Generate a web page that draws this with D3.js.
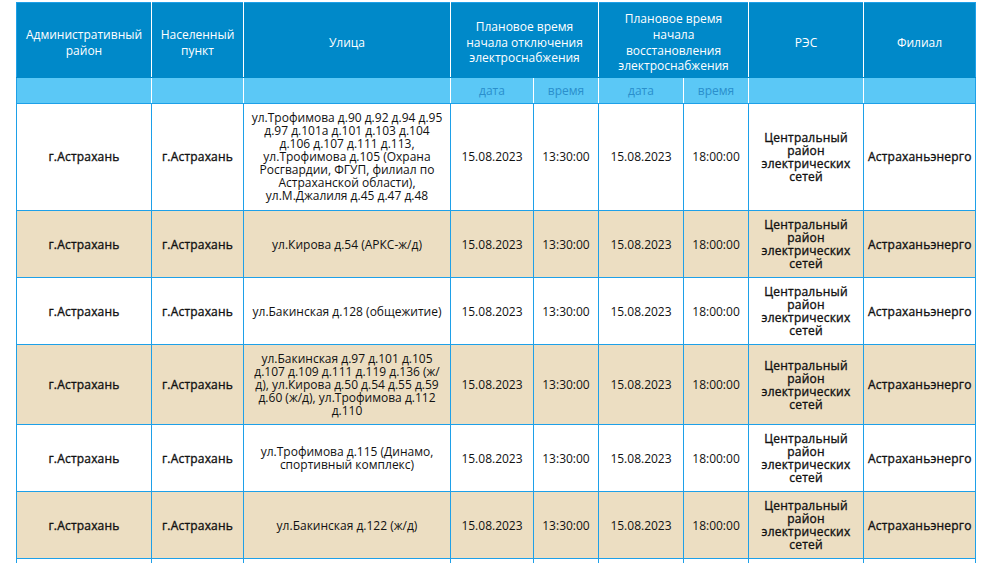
<!DOCTYPE html>
<html lang="ru">
<head>
<meta charset="utf-8">
<script src="https://cdn.jsdelivr.net/npm/d3@7"></script>
<style>
  html, body { margin: 0; padding: 0; background: #fff; overflow: hidden; }
  body { width: 991px; height: 563px; }
  #wrap { position: absolute; left: 16px; top: 2px; }
  table {
    border-collapse: collapse; table-layout: fixed;
    font-family: "Open Sans", sans-serif; font-size: 12px; color: #111;
  }
  th, td { border: 1px solid #1ea0e8; text-align: center; vertical-align: middle; }
  thead tr.top th {
    background: #0089c9; color: #fff; font-weight: 400; line-height: 15.8px;
    height: 69px; padding: 5px 6px 0 6px; border-color: #fff #fff #0089c9 #fff;
  }
  thead tr.sub th {
    background: #5bc8f6; color: #2a8fcc; font-weight: 400; height: 25px; padding: 0;
    border-color: #0089c9 #fff #1ea0e8 #fff;
  }
  thead tr.top th:first-child, thead tr.sub th:first-child { border-left-color: #1ea0e8; }
  thead tr.top th:last-child, thead tr.sub th:last-child { border-right-color: #1ea0e8; }
  thead tr.top th { border-top-color: #1ea0e8; }
  td { line-height: 13px; padding: 7px 4px; }
  tbody tr:first-child td { padding-bottom: 8px; }
  td.b { font-weight: 400; -webkit-text-stroke: 0.35px #111; letter-spacing: 0.2px; }
  tr.odd td { background: #fff; }
  tr.even td { background: #ecdec2; }
  tr.cut td { height: 60px; }
</style>
</head>
<body>
<div id="wrap"></div>
<script>
// ============================================================
// Data
// ============================================================

const COL_WIDTHS = [135, 92, 207, 83, 65, 85, 65, 115, 112];

const HEADERS = [
  { text: 'Административный район', span: 1 },
  { text: 'Населенный пункт', span: 1 },
  { text: 'Улица', span: 1 },
  { text: 'Плановое время начала отключения электроснабжения', span: 2 },
  { text: 'Плановое время начала восстановления электроснабжения', span: 2 },
  { text: 'РЭС', span: 1 },
  { text: 'Филиал', span: 1 },
];

const SUB_HEADERS = ['', '', '', 'дата', 'время', 'дата', 'время', '', ''];

const districts = ['г.Астрахань', 'г.Астрахань', 'г.Астрахань', 'г.Астрахань', 'г.Астрахань', 'г.Астрахань'];
const settlements = ['г.Астрахань', 'г.Астрахань', 'г.Астрахань', 'г.Астрахань', 'г.Астрахань', 'г.Астрахань'];
const streets = [
  'ул.Трофимова д.90 д.92 д.94 д.95 д.97 д.101а д.101 д.103 д.104 д.106 д.107 д.111 д.113, ул.Трофимова д.105 (Охрана Росгвардии, ФГУП, филиал по Астраханской области), ул.М.Джалиля д.45 д.47 д.48',
  'ул.Кирова д.54 (АРКС-ж/д)',
  'ул.Бакинская д.128 (общежитие)',
  'ул.Бакинская д.97 д.101 д.105 д.107 д.109 д.111 д.119 д.136 (ж/д), ул.Кирова д.50 д.54 д.55 д.59 д.60 (ж/д), ул.Трофимова д.112 д.110',
  'ул.Трофимова д.115 (Динамо, спортивный комплекс)',
  'ул.Бакинская д.122 (ж/д)',
];
const offDates = ['15.08.2023', '15.08.2023', '15.08.2023', '15.08.2023', '15.08.2023', '15.08.2023'];
const offTimes = ['13:30:00', '13:30:00', '13:30:00', '13:30:00', '13:30:00', '13:30:00'];
const onDates = ['15.08.2023', '15.08.2023', '15.08.2023', '15.08.2023', '15.08.2023', '15.08.2023'];
const onTimes = ['18:00:00', '18:00:00', '18:00:00', '18:00:00', '18:00:00', '18:00:00'];
const resNames = Array(6).fill('Центральный район электрических сетей');
const branches = Array(6).fill('Астраханьэнерго');

// полужирные колонки
const BOLD_COLS = [true, true, false, false, false, false, false, true, true];

// ============================================================
// Table
// ============================================================

function renderTable() {
  const table = d3.select('#wrap').append('table')
    .style('width', d3.sum(COL_WIDTHS) + 'px');

  table.append('colgroup').selectAll('col')
    .data(COL_WIDTHS)
    .join('col')
    .style('width', d => d + 'px');

  const thead = table.append('thead');
  thead.append('tr').attr('class', 'top').selectAll('th')
    .data(HEADERS)
    .join('th')
    .attr('colspan', d => d.span)
    .text(d => d.text);

  thead.append('tr').attr('class', 'sub').selectAll('th')
    .data(SUB_HEADERS)
    .join('th')
    .text(d => d);

  const rows = districts.map((d, i) => [
    d, settlements[i], streets[i], offDates[i], offTimes[i],
    onDates[i], onTimes[i], resNames[i], branches[i],
  ]);

  const tbody = table.append('tbody');
  tbody.selectAll('tr')
    .data(rows)
    .join('tr')
    .attr('class', (d, i) => i % 2 === 0 ? 'odd' : 'even')
    .selectAll('td')
    .data(d => d)
    .join('td')
    .classed('b', (d, i) => BOLD_COLS[i])
    .text(d => d);

  // следующая строка уходит за нижний край — видна только её верхняя граница
  tbody.append('tr').attr('class', 'odd cut').selectAll('td')
    .data(COL_WIDTHS)
    .join('td');
}

renderTable();
</script>
</body>
</html>
